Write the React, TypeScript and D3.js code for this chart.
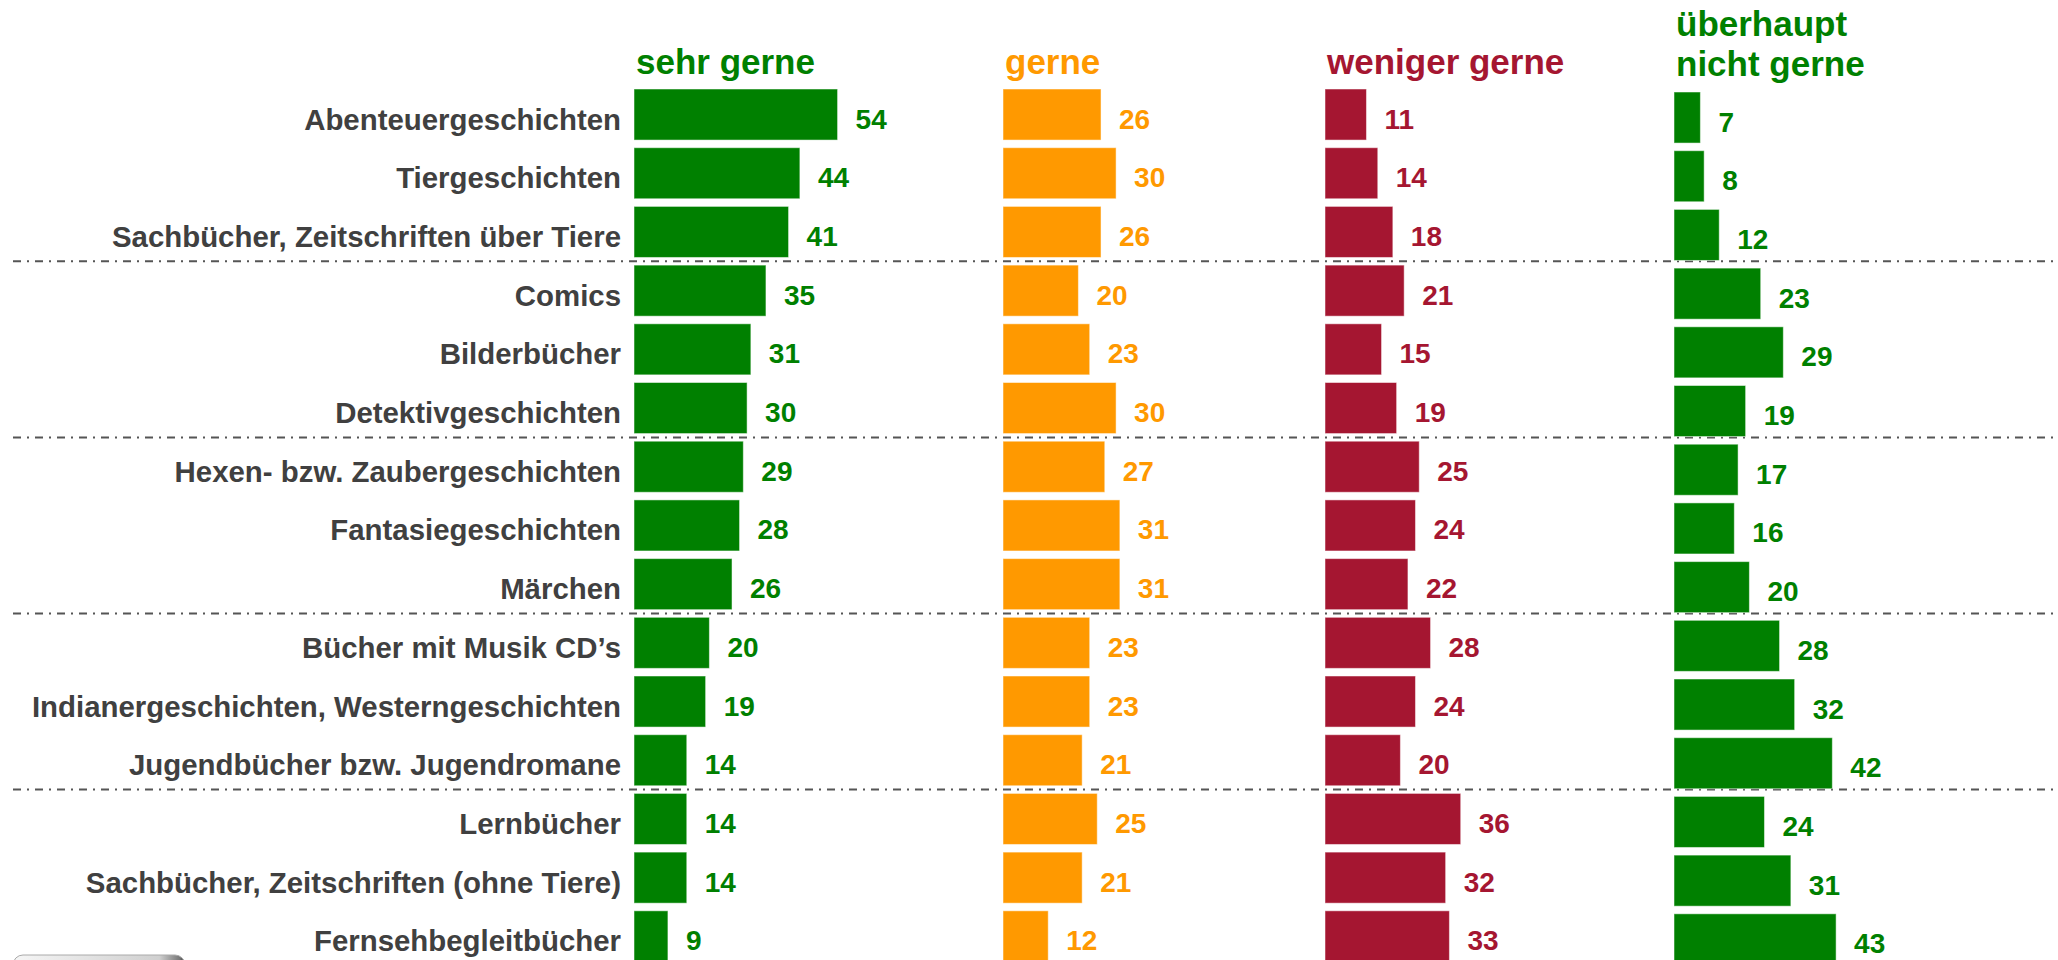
import React, { useEffect } from 'react';
import * as d3 from 'd3';

// Leseinteressen: Anteil der Kinder (%) je Genre und Antwort
const categories = [
  'Abenteuergeschichten',
  'Tiergeschichten',
  'Sachbücher, Zeitschriften über Tiere',
  'Comics',
  'Bilderbücher',
  'Detektivgeschichten',
  'Hexen- bzw. Zaubergeschichten',
  'Fantasiegeschichten',
  'Märchen',
  'Bücher mit Musik CD’s',
  'Indianergeschichten, Westerngeschichten',
  'Jugendbücher bzw. Jugendromane',
  'Lernbücher',
  'Sachbücher, Zeitschriften (ohne Tiere)',
  'Fernsehbegleitbücher',
];

const sehrGerne = [54, 44, 41, 35, 31, 30, 29, 28, 26, 20, 19, 14, 14, 14, 9];
const gerne = [26, 30, 26, 20, 23, 30, 27, 31, 31, 23, 23, 21, 25, 21, 12];
const wenigerGerne = [11, 14, 18, 21, 15, 19, 25, 24, 22, 28, 24, 20, 36, 32, 33];
const nichtGerne = [7, 8, 12, 23, 29, 19, 17, 16, 20, 28, 32, 42, 24, 31, 43];

// Header lines per column
const headers = [['sehr gerne'], ['gerne'], ['weniger gerne'], ['überhaupt', 'nicht gerne']];

// separator after every third row
const groupSize = 3;

const W = 2058;
const H = 960;
const FONT = '"Liberation Sans", Arial, Helvetica, sans-serif';
const GREEN = '#008000';
const ORANGE = '#FF9900';
const RED = '#A51631';
const LABEL = '#404040';

const columns = [
  { values: sehrGerne, x0: 634, color: GREEN, dy: 0 },
  { values: gerne, x0: 1003, color: ORANGE, dy: 0 },
  { values: wenigerGerne, x0: 1325, color: RED, dy: 0 },
  { values: nichtGerne, x0: 1674, color: GREEN, dy: 3 },
];

const App = () => {
  useEffect(() => {
    document.body.style.margin = '0';
    document.body.style.overflow = 'hidden';
  }, []);

  const step = 58.7;
  const pad = 0.13;
  const y = d3
    .scaleBand<string>()
    .domain(categories)
    .range([89, 89 + step * (categories.length - pad)])
    .paddingInner(pad)
    .paddingOuter(0);

  // px per percent
  const x = d3.scaleLinear().domain([0, 60]).range([0, 226.2]);

  const separators = d3
    .range(groupSize, categories.length, groupSize)
    .map(i => (y(categories[i - 1])! + y.bandwidth() + y(categories[i])!) / 2);

  return (
    <svg
      width={W}
      height={H}
      style={{ position: 'absolute', left: 0, top: 0, background: '#fff' }}
      fontFamily={FONT}
      fontWeight="bold"
    >
      <defs>
        <linearGradient id="btn" x1="0" x2="1" y1="0" y2="0">
          <stop offset="0" stopColor="#f6f6f6" />
          <stop offset="0.85" stopColor="#d0d0d0" />
          <stop offset="0.97" stopColor="#777" />
          <stop offset="1" stopColor="#333" />
        </linearGradient>
      </defs>

      {/* headers */}
      {columns.map((c, ci) => (
        <text key={'h' + ci} x={c.x0 + 2} fill={c.color} fontSize={35}>
          {headers[ci].map((line, li, arr) => (
            <tspan
              key={li}
              x={c.x0 + 2}
              y={arr.length > 1 ? 76 - (arr.length - 1 - li) * 40 : 74}
            >
              {line}
            </tspan>
          ))}
        </text>
      ))}

      {/* separators */}
      {separators.map((sy, i) => (
        <line
          key={'s' + i}
          x1={13}
          x2={W}
          y1={sy}
          y2={sy}
          stroke="#555"
          strokeWidth={2}
          strokeDasharray="8 6 2 6"
        />
      ))}

      {/* category labels */}
      {categories.map(cat => (
        <text
          key={cat}
          x={621}
          y={y(cat)! + y.bandwidth() / 2 + 15}
          textAnchor="end"
          fill={LABEL}
          fontSize={29.4}
        >
          {cat}
        </text>
      ))}

      {/* bars and values */}
      {columns.map((c, ci) => (
        <g key={'c' + ci} transform={`translate(${c.x0},${c.dy})`}>
          {c.values.map((v, i) => {
            const by = y(categories[i])!;
            return (
              <g key={i}>
                <rect
                  x={0}
                  y={by}
                  width={x(v)}
                  height={y.bandwidth()}
                  fill={c.color}
                  stroke="#ffffff"
                  strokeOpacity={0.5}
                  strokeWidth={1}
                />
                <text
                  x={x(v) + 18}
                  y={by + y.bandwidth() / 2 + 14}
                  fill={c.color}
                  fontSize={28}
                >
                  {v}
                </text>
              </g>
            );
          })}
        </g>
      ))}

      {/* cut-off button at the bottom left */}
      <rect x={13} y={955} width={172} height={40} rx={10} fill="url(#btn)" stroke="#aaa" />
    </svg>
  );
};

export default App;
